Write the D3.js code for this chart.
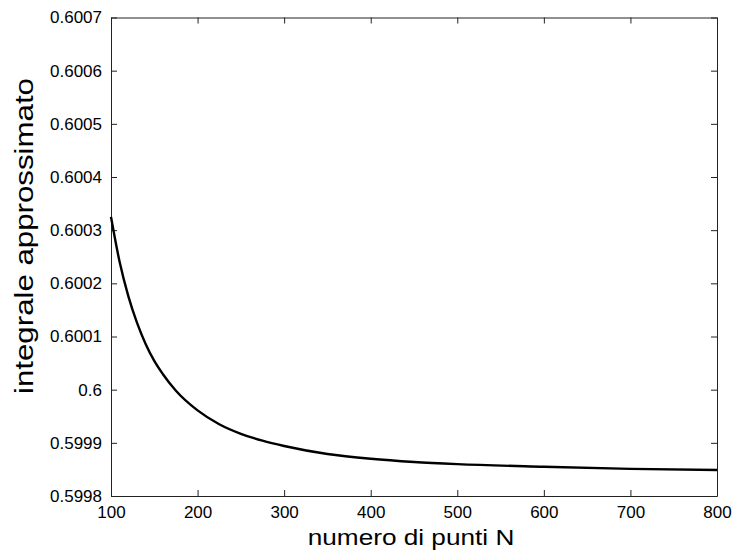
<!DOCTYPE html>
<html>
<head>
<meta charset="utf-8">
<script src="https://cdn.jsdelivr.net/npm/d3@7"></script>
<style>
  body { margin: 0; background: #fff; }
  text { font-family: "Liberation Sans", Arial, sans-serif; fill: #000; }
  .axis path, .axis line { stroke: #222; }
</style>
</head>
<body>
<svg id="canvas" width="735" height="558"></svg>
<script>
// data
const N = [100, 110, 120, 130, 140, 150, 160, 175, 200, 225, 250, 275, 300, 350, 400, 450, 500, 600, 700, 800];
const integrale = [0.600325, 0.60024, 0.600176, 0.600126, 0.600086, 0.600054, 0.600029, 0.599998, 0.599961,
  0.599935, 0.599917, 0.599904, 0.599894, 0.599879, 0.59987, 0.599864, 0.59986, 0.599855, 0.599851, 0.599849];
const xTicks = [100, 200, 300, 400, 500, 600, 700, 800];
const yTicks = [0.5998, 0.5999, 0.6, 0.6001, 0.6002, 0.6003, 0.6004, 0.6005, 0.6006, 0.6007];

const box = { left: 111, top: 17.5, right: 717, bottom: 496 };

const svg = d3.select('#canvas');

const x = d3.scaleLinear().domain([100, 800]).range([box.left, box.right]);
const y = d3.scaleLinear().domain([0.5998, 0.6007]).range([box.bottom, box.top]);

const fmt = d => String(+d.toFixed(4));

// frame + ticks (matlab box, ticks inside)
svg.append('g').classed('axis', true)
  .attr('transform', `translate(0,${box.bottom})`)
  .call(d3.axisBottom(x).tickValues(xTicks).tickSizeInner(-6).tickSizeOuter(0).tickPadding(10).tickFormat(d3.format('d')))
svg.append('g').classed('axis', true)
  .attr('transform', `translate(0,${box.top})`)
  .call(d3.axisTop(x).tickValues(xTicks).tickSizeInner(-6).tickSizeOuter(0).tickFormat(''))
svg.append('g').classed('axis', true)
  .attr('transform', `translate(${box.left},0)`)
  .call(d3.axisLeft(y).tickValues(yTicks).tickSizeInner(-6).tickSizeOuter(0).tickPadding(9).tickFormat(fmt))
svg.append('g').classed('axis', true)
  .attr('transform', `translate(${box.right},0)`)
  .call(d3.axisRight(y).tickValues(yTicks).tickSizeInner(-6).tickSizeOuter(0).tickFormat(''))

svg.selectAll('.axis text').style('font-size', '17px').attr('fill', '#000')
svg.selectAll('.axis path').attr('stroke', '#222')

// curve
const line = d3.line()
  .x((d, i) => x(N[i]))
  .y(d => y(d))
  .curve(d3.curveMonotoneX);

svg.append('path')
  .datum(integrale)
  .attr('d', line)
  .attr('fill', 'none')
  .attr('stroke', '#000')
  .attr('stroke-width', 2.4)

// labels (font in the original is a bit stretched)
svg.append('text')
  .attr('transform', `translate(${(box.left + box.right) / 2 - 3},545) scale(1.19,1)`)
  .attr('text-anchor', 'middle')
  .style('font-size', '22px')
  .text('numero di punti N')

svg.append('text')
  .attr('transform', `translate(33,236) rotate(-90) scale(1.25,1)`)
  .attr('text-anchor', 'middle')
  .style('font-size', '25px')
  .text('integrale approssimato')
</script>
</body>
</html>
